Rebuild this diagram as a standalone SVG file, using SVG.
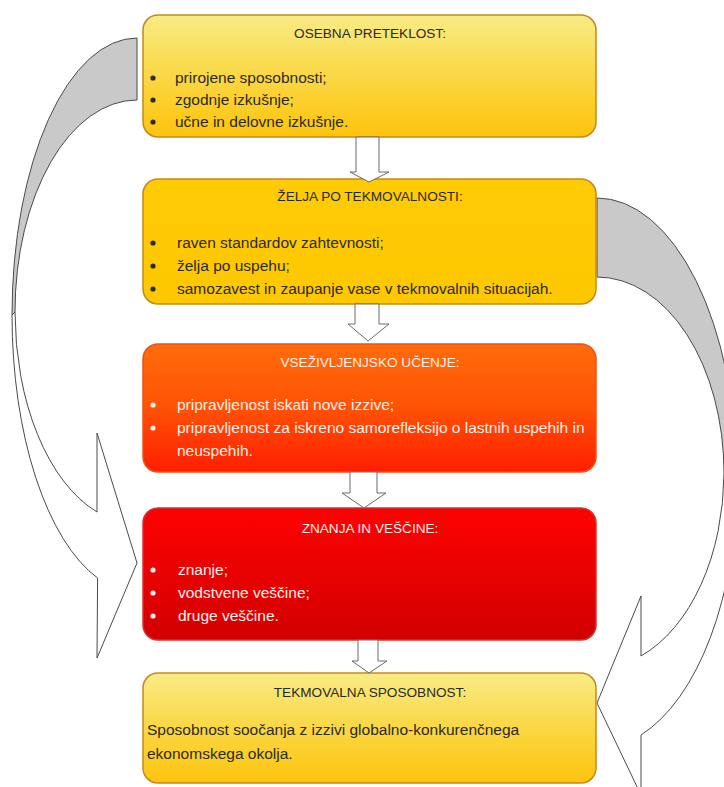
<svg xmlns="http://www.w3.org/2000/svg" width="724" height="787" viewBox="0 0 724 787">
<defs>
<linearGradient id="gYel" x1="0" y1="0" x2="0" y2="1">
<stop offset="0" stop-color="#f8ec86"/>
<stop offset="0.45" stop-color="#fad94a"/>
<stop offset="1" stop-color="#fdc40c"/>
</linearGradient>
<linearGradient id="gGold" x1="0" y1="0" x2="0" y2="1">
<stop offset="0" stop-color="#fecb05"/>
<stop offset="1" stop-color="#fec800"/>
</linearGradient>
<linearGradient id="gOrange" x1="0" y1="0" x2="0" y2="1">
<stop offset="0" stop-color="#ff6c0a"/>
<stop offset="0.5" stop-color="#ff5206"/>
<stop offset="1" stop-color="#ff1e00"/>
</linearGradient>
<linearGradient id="gRed" x1="0" y1="0" x2="0" y2="1">
<stop offset="0" stop-color="#fe0202"/>
<stop offset="1" stop-color="#d20000"/>
</linearGradient>
</defs>
<style>
.box{stroke-width:1.5}
.title{font-family:"Liberation Sans",Arial,sans-serif;font-size:13.6px;text-anchor:middle}
.body{font-family:"Liberation Sans",Arial,sans-serif;font-size:15.5px}
.dark{fill:#2a2a2a}
.light{fill:#fff0ea}
.back{fill:#c9c9c9;stroke:#4a4a4a;stroke-width:1}
.front{fill:#ffffff;stroke:#4a4a4a;stroke-width:1}
.blk{fill:#ffffff;stroke:#6a6a6a;stroke-width:1}
</style>

<g id="connectors">
<path class="back" d="M137,38 A125,277 0 0,0 12,315 L15,312 A122,212 0 0,1 137,100 Z"/>
<path class="front" d="M12,315 A125,277 0 0,0 97.6,578 L97,658 L137,563 L97,433 L97,512 A122,212 0 0,1 15,312 Z"/>
<path class="back" d="M597,198 A140,282 0 0,1 737,480 L724,473 A127,196 0 0,0 597,277 Z"/>
<path class="front" d="M737,480 A140,269 0 0,1 641,735 L641,795 L597,703 L641,596 L641,656 A127,196 0 0,0 724,473 Z"/>
</g>

<g id="n1">
<rect class="box" x="143" y="15" width="453" height="122" rx="15" fill="url(#gYel)" stroke="#c8861e"/>
<text class="title dark" x="370" y="38">OSEBNA PRETEKLOST:</text>
<circle class="dark" cx="153" cy="78" r="2.6"/>
<circle class="dark" cx="153" cy="100" r="2.6"/>
<circle class="dark" cx="153" cy="122" r="2.6"/>
<text class="body dark" x="175" y="83">prirojene sposobnosti;</text>
<text class="body dark" x="175" y="105">zgodnje izkušnje;</text>
<text class="body dark" x="175" y="127">učne in delovne izkušnje.</text>
</g>

<g id="n2">
<rect class="box" x="143" y="179" width="453" height="125" rx="15" fill="url(#gGold)" stroke="#c8861e"/>
<text class="title dark" x="370" y="201">ŽELJA PO TEKMOVALNOSTI:</text>
<circle class="dark" cx="153" cy="243" r="2.6"/>
<circle class="dark" cx="153" cy="266" r="2.6"/>
<circle class="dark" cx="153" cy="289" r="2.6"/>
<text class="body dark" x="177" y="248">raven standardov zahtevnosti;</text>
<text class="body dark" x="177" y="271">želja po uspehu;</text>
<text class="body dark" x="177" y="294">samozavest in zaupanje vase v tekmovalnih situacijah.</text>
</g>

<g id="n3">
<rect class="box" x="143" y="344" width="453" height="128" rx="15" fill="url(#gOrange)" stroke="#e8541a"/>
<text class="title light" x="370" y="367">VSEŽIVLJENJSKO UČENJE:</text>
<circle class="light" cx="153" cy="405" r="2.6"/>
<circle class="light" cx="153" cy="428" r="2.6"/>
<text class="body light" x="177" y="410">pripravljenost iskati nove izzive;</text>
<text class="body light" x="177" y="433">pripravljenost za iskreno samorefleksijo o lastnih uspehih in</text>
<text class="body light" x="177" y="456">neuspehih.</text>
</g>

<g id="n4">
<rect class="box" x="143" y="508" width="453" height="132" rx="15" fill="url(#gRed)" stroke="#d43030"/>
<text class="title light" x="370" y="533">ZNANJA IN VEŠČINE:</text>
<circle class="light" cx="153" cy="570" r="2.6"/>
<circle class="light" cx="153" cy="593" r="2.6"/>
<circle class="light" cx="153" cy="616" r="2.6"/>
<text class="body light" x="178" y="575">znanje;</text>
<text class="body light" x="178" y="598">vodstvene veščine;</text>
<text class="body light" x="178" y="621">druge veščine.</text>
</g>

<g id="n5">
<rect class="box" x="143" y="673" width="453" height="110" rx="15" fill="url(#gYel)" stroke="#c8861e"/>
<text class="title dark" x="370" y="697">TEKMOVALNA SPOSOBNOST:</text>
<text class="body dark" x="147" y="735">Sposobnost soočanja z izzivi globalno-konkurenčnega</text>
<text class="body dark" x="147" y="759">ekonomskega okolja.</text>
</g>

<g id="flow-arrows">
<path class="blk" d="M356,137 L356,172 L350,172 L369,182 L389,172 L379,172 L379,137 Z"/>
<path class="blk" d="M355,304 L355,324 L348,324 L368,341 L389,324 L379,324 L379,304 Z"/>
<path class="blk" d="M350,472 L350,493 L342,493 L364,508 L386,493 L377,493 L377,472 Z"/>
<path class="blk" d="M358,640 L358,661 L352,661 L369,673 L387,661 L378,661 L378,640 Z"/>
</g>
</svg>
